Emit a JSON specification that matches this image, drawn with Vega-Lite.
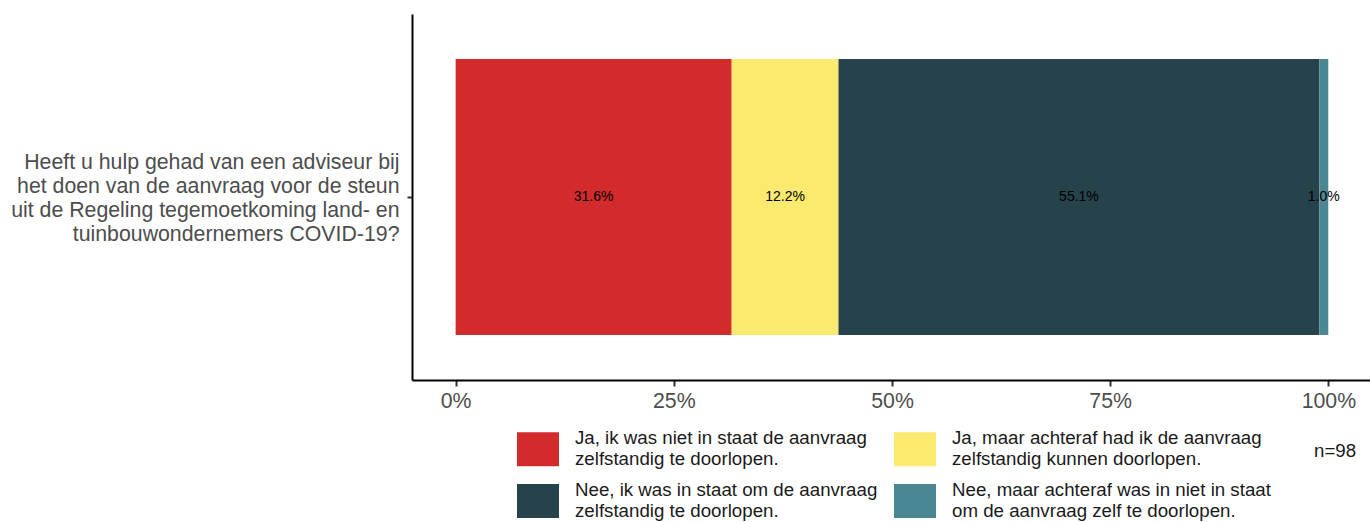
{
  "$schema": "https://vega.github.io/schema/vega-lite/v6.json",
  "width": 960,
  "height": 366,
  "autosize": {"type": "none"},
  "padding": {"left": 412, "top": 14, "right": 0, "bottom": 142},
  "background": "white",
  "config": {"view": {"stroke": null}, "font": "Liberation Sans"},
  "data": {
    "values": [
      {"question": "Heeft u hulp gehad van een adviseur bij het doen van de aanvraag voor de steun uit de Regeling tegemoetkoming land- en tuinbouwondernemers COVID-19?", "answer": "Ja, ik was niet in staat de aanvraag zelfstandig te doorlopen.", "share": 0.3163, "rank": 1},
      {"question": "Heeft u hulp gehad van een adviseur bij het doen van de aanvraag voor de steun uit de Regeling tegemoetkoming land- en tuinbouwondernemers COVID-19?", "answer": "Ja, maar achteraf had ik de aanvraag zelfstandig kunnen doorlopen.", "share": 0.1224, "rank": 2},
      {"question": "Heeft u hulp gehad van een adviseur bij het doen van de aanvraag voor de steun uit de Regeling tegemoetkoming land- en tuinbouwondernemers COVID-19?", "answer": "Nee, ik was in staat om de aanvraag zelfstandig te doorlopen.", "share": 0.5510, "rank": 3},
      {"question": "Heeft u hulp gehad van een adviseur bij het doen van de aanvraag voor de steun uit de Regeling tegemoetkoming land- en tuinbouwondernemers COVID-19?", "answer": "Nee, maar achteraf was in niet in staat om de aanvraag zelf te doorlopen.", "share": 0.0102, "rank": 4}
    ]
  },
  "transform": [
    {"stack": "share", "groupby": ["question"], "sort": [{"field": "rank"}], "as": ["x0", "x1"]}
  ],
  "encoding": {
    "y": {
      "field": "question",
      "type": "nominal",
      "scale": {"paddingInner": 0, "paddingOuter": 0.163},
      "axis": {
        "title": null,
        "labelExpr": "['Heeft u hulp gehad van een adviseur bij', 'het doen van de aanvraag voor de steun', 'uit de Regeling tegemoetkoming land- en', 'tuinbouwondernemers COVID-19?']",
        "labelFontSize": 21.3,
        "labelColor": "#4D4D4D",
        "labelLineHeight": 24,
        "labelLimit": 0,
        "labelPadding": 8,
        "labelOffset": -34,
        "domainColor": "#000000",
        "domainWidth": 2,
        "tickColor": "#333333",
        "tickSize": 5,
        "tickWidth": 2,
        "grid": false
      }
    }
  },
  "layer": [
    {
      "mark": {"type": "bar"},
      "encoding": {
        "x": {
          "field": "x0",
          "type": "quantitative",
          "scale": {"domain": [-0.05, 1.05], "nice": false, "zero": false},
          "axis": {
            "title": null,
            "values": [0, 0.25, 0.5, 0.75, 1],
            "format": ".0%",
            "labelFontSize": 21.3,
            "labelColor": "#4D4D4D",
            "labelPadding": 4,
            "domainColor": "#000000",
            "domainWidth": 2,
            "tickColor": "#333333",
            "tickSize": 6,
            "tickWidth": 2,
            "grid": false
          }
        },
        "x2": {"field": "x1"},
        "color": {
          "field": "answer",
          "type": "nominal",
          "sort": null,
          "scale": {
            "domain": [
              "Ja, ik was niet in staat de aanvraag zelfstandig te doorlopen.",
              "Ja, maar achteraf had ik de aanvraag zelfstandig kunnen doorlopen.",
              "Nee, ik was in staat om de aanvraag zelfstandig te doorlopen.",
              "Nee, maar achteraf was in niet in staat om de aanvraag zelf te doorlopen."
            ],
            "range": ["#D32B2B", "#FCE970", "#26424A", "#4A8793"]
          },
          "legend": {
            "orient": "none",
            "legendX": 105,
            "legendY": 414,
            "columns": 2,
            "direction": "horizontal",
            "gridAlign": "all",
            "padding": 0,
            "symbolType": "M-1,-0.81H1V0.81H-1Z",
            "symbolSize": 1764,
            "symbolStrokeWidth": 0,
            "symbolOpacity": 1,
            "labelFontSize": 18.7,
            "labelColor": "#1A1A1A",
            "labelOffset": 16,
            "labelLimit": 0,
            "labelLineHeight": 19,
            "labelBaseline": "line-bottom",
            "labelExpr": "datum.label == 'Ja, ik was niet in staat de aanvraag zelfstandig te doorlopen.' ? ['Ja, ik was niet in staat de aanvraag', 'zelfstandig te doorlopen.'] : datum.label == 'Ja, maar achteraf had ik de aanvraag zelfstandig kunnen doorlopen.' ? ['Ja, maar achteraf had ik de aanvraag', 'zelfstandig kunnen doorlopen.'] : datum.label == 'Nee, ik was in staat om de aanvraag zelfstandig te doorlopen.' ? ['Nee, ik was in staat om de aanvraag', 'zelfstandig te doorlopen.'] : ['Nee, maar achteraf was in niet in staat', 'om de aanvraag zelf te doorlopen.']",
            "rowPadding": 11,
            "columnPadding": 0,
            "title": "n=98",
            "titleOrient": "right",
            "titleAnchor": "start",
            "titleBaseline": "line-top",
            "titleLineHeight": 48,
            "titleFontSize": 18.7,
            "titleFontWeight": "normal",
            "titleColor": "#1A1A1A",
            "titlePadding": 43
          }
        }
      }
    },
    {
      "transform": [{"fold": ["x0", "x1"], "as": ["edge", "pos"]}],
      "mark": {"type": "text", "fontSize": 14, "color": "#000000"},
      "encoding": {
        "x": {
          "field": "pos",
          "type": "quantitative",
          "aggregate": "mean",
          "stack": null,
          "scale": {"domain": [-0.05, 1.05], "nice": false, "zero": false},
          "axis": {
            "title": null,
            "values": [0, 0.25, 0.5, 0.75, 1],
            "format": ".0%",
            "labelFontSize": 21.3,
            "labelColor": "#4D4D4D",
            "labelPadding": 4,
            "domainColor": "#000000",
            "domainWidth": 2,
            "tickColor": "#333333",
            "tickSize": 6,
            "tickWidth": 2,
            "grid": false
          }
        },
        "detail": {"field": "answer", "type": "nominal"},
        "text": {"field": "share", "type": "quantitative", "format": ".1%"}
      }
    }
  ]
}
